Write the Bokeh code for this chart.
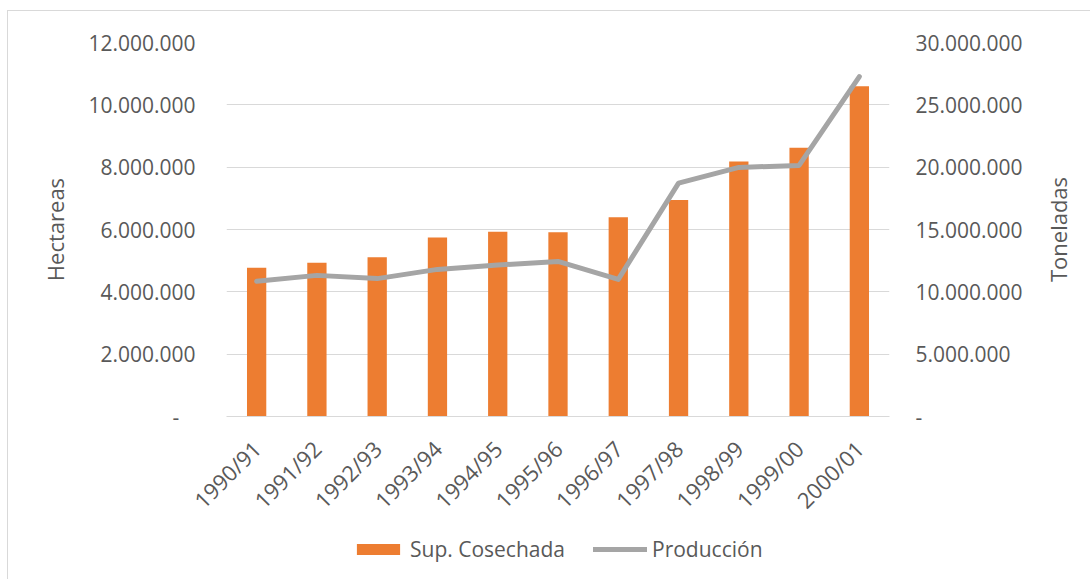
from bokeh.plotting import figure
from bokeh.layouts import column, row
from bokeh.models import (FactorRange, Range1d, LinearAxis, FixedTicker,
                          CustomJSTickFormatter, Legend, LegendItem, ColumnDataSource)
from bokeh.embed import file_html
from bokeh.resources import INLINE
import math

# Campañas agrícolas
seasons = ["1990/91", "1991/92", "1992/93", "1993/94", "1994/95", "1995/96",
           "1996/97", "1997/98", "1998/99", "1999/00", "2000/01"]
# Superficie cosechada (hectáreas)
harvested_ha = [4770000, 4930000, 5110000, 5740000, 5930000, 5910000,
                6390000, 6950000, 8180000, 8620000, 10600000]
# Producción (toneladas)
production_t = [10840000, 11320000, 11060000, 11800000, 12150000, 12440000,
                11000000, 18720000, 19980000, 20140000, 27270000]

left_ticks = [0, 2000000, 4000000, 6000000, 8000000, 10000000, 12000000]
right_ticks = [0, 5000000, 10000000, 15000000, 20000000, 25000000, 30000000]

FONT = "Open Sans"
TXT = "#595959"
GRID = "#d9d9d9"
BAR = "#ED7D31"
LINE = "#A5A5A5"
EDGE = "1px solid #d9d9d9"

src = ColumnDataSource(dict(season=seasons, ha=harvested_ha, ton=production_t))
x_range = FactorRange(*seasons)

# ---- gráfico principal ----
p = figure(width=1032, height=525, margin=(10, 0, 0, 7),
           x_range=x_range, y_range=Range1d(0, 12000000),
           output_backend="svg", toolbar_location=None,
           min_border_left=218, min_border_right=151,
           min_border_top=31, min_border_bottom=120,
           styles={"border-left": EDGE, "border-top": EDGE})
p.extra_y_ranges = {"ton": Range1d(0, 30000000)}
p.outline_line_color = None
p.background_fill_color = "white"
p.border_fill_color = "white"

fmt_left = CustomJSTickFormatter(code="""
    if (tick == 0) { return "-\u00a0\u00a0\u00a0"; }
    return Math.round(tick).toString().replace(/\\B(?=(\\d{3})+(?!\\d))/g, ".");
""")
fmt_right = CustomJSTickFormatter(code="""
    if (tick == 0) { return "-"; }
    return Math.round(tick).toString().replace(/\\B(?=(\\d{3})+(?!\\d))/g, ".");
""")

p.vbar(x="season", top="ha", width=0.32, source=src,
       fill_color=BAR, line_color=None)
p.line(x="season", y="ton", source=src, y_range_name="ton",
       line_color=LINE, line_width=5, line_cap="round", line_join="round")

# Eje izquierdo (hectáreas)
ya = p.yaxis[0]
ya.ticker = FixedTicker(ticks=left_ticks)
ya.formatter = fmt_left
ya.axis_label = "Hectareas"

# Eje derecho (toneladas); su título va en la franja lateral
ra = LinearAxis(y_range_name="ton", ticker=FixedTicker(ticks=right_ticks),
                formatter=fmt_right)
p.add_layout(ra, "right")

for ax in (ya, ra):
    ax.axis_line_color = None
    ax.major_tick_line_color = None
    ax.minor_tick_line_color = None
    ax.major_label_text_font = FONT
    ax.major_label_text_font_size = "21px"
    ax.major_label_text_color = TXT
    ax.axis_label_text_font = FONT
    ax.axis_label_text_font_size = "22px"
    ax.axis_label_text_font_style = "normal"
    ax.axis_label_text_color = TXT
ya.major_label_standoff = 25
ra.major_label_standoff = 20
ya.axis_label_standoff = 15

xa = p.xaxis[0]
xa.axis_line_color = GRID
xa.major_tick_line_color = None
xa.minor_tick_line_color = None
xa.major_label_orientation = math.pi / 4
xa.major_label_text_font = FONT
xa.major_label_text_font_size = "22px"
xa.major_label_text_color = TXT
xa.major_label_standoff = 22

p.xgrid.grid_line_color = None
p.ygrid.grid_line_color = GRID
p.ygrid.grid_line_width = 1

# ---- franja lateral con el título del eje de toneladas ----
rf = figure(width=51, height=525, margin=(10, 0, 0, 0),
            x_range=Range1d(0, 1), y_range=Range1d(0, 30000000),
            x_axis_type=None, output_backend="svg", toolbar_location=None,
            min_border_left=30, min_border_right=0,
            min_border_top=31, min_border_bottom=120,
            styles={"border-top": EDGE})
rf.outline_line_color = None
rf.xgrid.visible = False
rf.ygrid.visible = False
ta = rf.yaxis[0]
ta.ticker = FixedTicker(ticks=[])
ta.axis_line_color = None
ta.major_tick_line_color = None
ta.minor_tick_line_color = None
ta.major_label_standoff = 0
ta.axis_label = "Toneladas"
ta.axis_label_standoff = 0
ta.axis_label_text_font = FONT
ta.axis_label_text_font_size = "22px"
ta.axis_label_text_font_style = "normal"
ta.axis_label_text_color = TXT

# ---- franja inferior con la leyenda (series ocultas, solo para las muestras) ----
lf = figure(width=1083, height=44, margin=(0, 0, 0, 7),
            x_range=x_range, y_range=Range1d(0, 1),
            x_axis_type=None, y_axis_type=None,
            output_backend="svg", toolbar_location=None,
            min_border_left=218, min_border_right=202,
            min_border_top=0, min_border_bottom=0,
            styles={"border-left": EDGE})
lf.outline_line_color = None
lf.xgrid.visible = False
lf.ygrid.visible = False
sw_bar = lf.vbar(x="season", top="ha", width=0.32, source=src,
                 fill_color=BAR, line_color=None, visible=False)
sw_line = lf.line(x="season", y="ton", source=src,
                  line_color=LINE, line_width=5, line_cap="round", visible=False)

legend = Legend(items=[LegendItem(label="Sup. Cosechada", renderers=[sw_bar]),
                       LegendItem(label="Producción", renderers=[sw_line])],
                orientation="horizontal", location=(125, 16),
                glyph_width=54, glyph_height=14, label_standoff=5, spacing=28,
                padding=0, margin=0, border_line_color=None,
                background_fill_alpha=0,
                label_text_font=FONT, label_text_font_size="21px",
                label_text_color=TXT)
lf.add_layout(legend, "center")

layout = column(row(p, rf, spacing=0), lf, spacing=0)
open("out.html", "w").write(file_html(layout, INLINE))
